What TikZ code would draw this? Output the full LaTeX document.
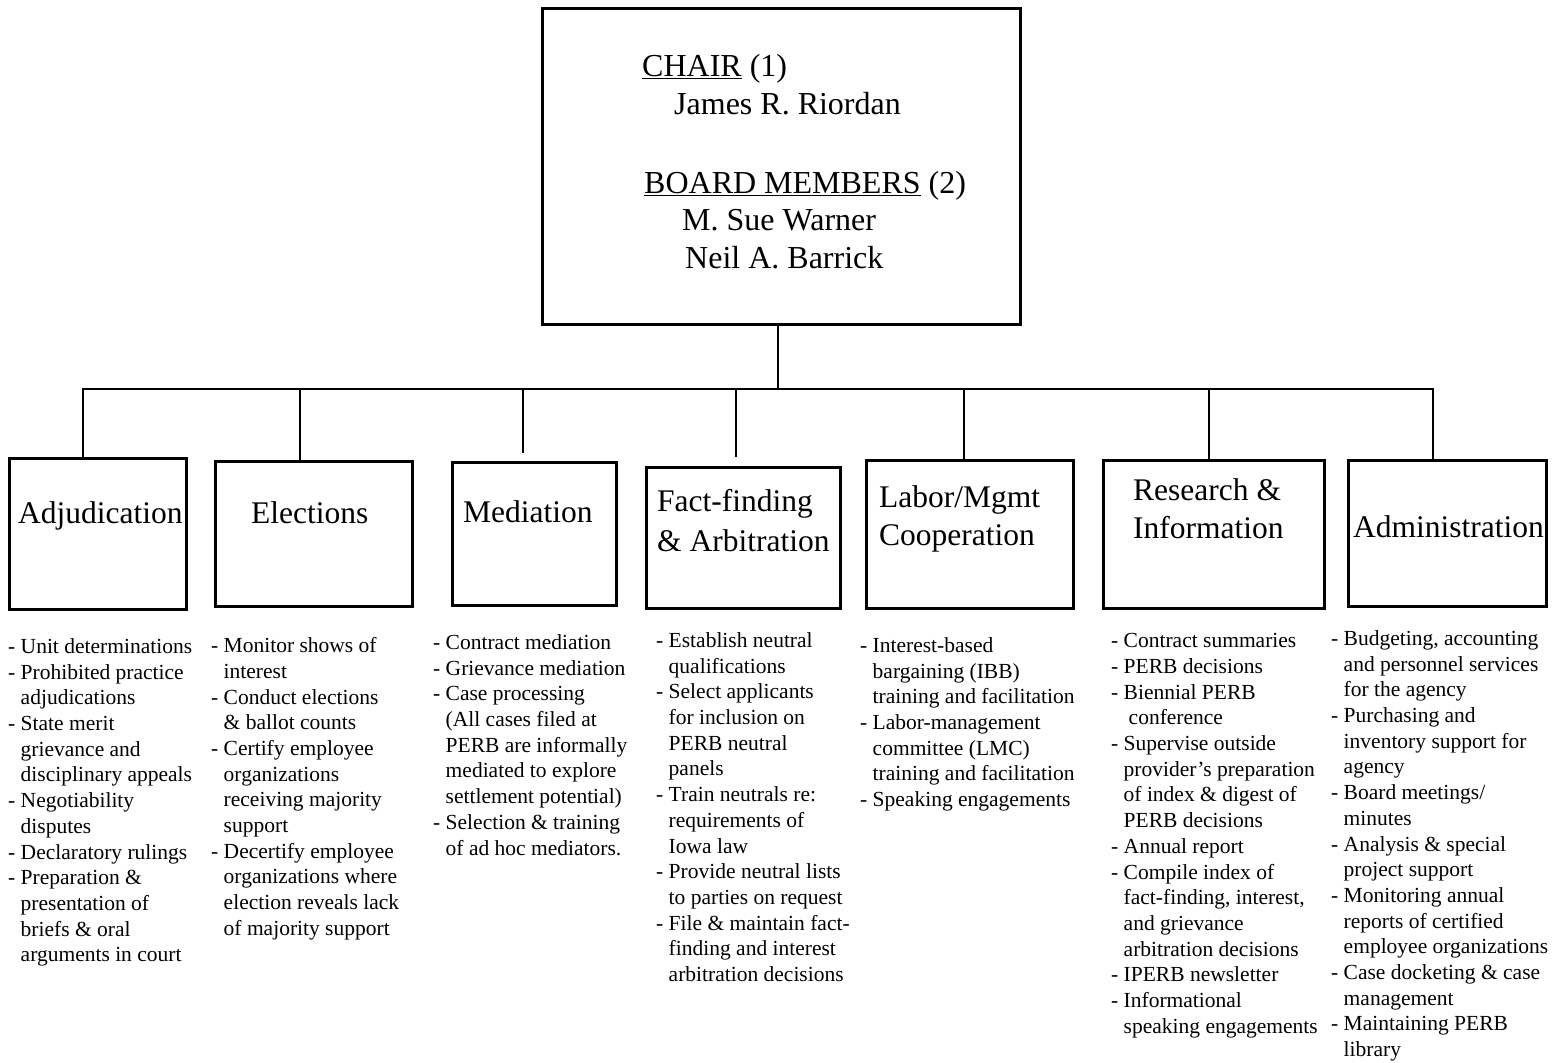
\documentclass[tikz,border=0pt]{standalone}
\usepackage{fontspec}
\setmainfont{Liberation Serif}
\newcommand\lind{\hphantom{- }}
\tikzset{
  box/.style={draw, line width=2.8pt, inner sep=0pt, anchor=north west},
  ttl/.style={inner sep=0pt, anchor=north west, align=left, font=\fontsize{31.5}{38.5}\selectfont},
  lst/.style={inner sep=0pt, anchor=north west, align=left, font=\fontsize{21.5}{25.7}\selectfont},
  conn/.style={line width=2.8pt},
}
\begin{document}
\begin{tikzpicture}[x=1pt,y=-1pt]
\useasboundingbox[fill=white] (0,0) rectangle (1559,1063);

% top box
\node[box, minimum width=478pt, minimum height=316pt] (chair) at (541,7) {};
\node[inner sep=0pt, anchor=north west, align=left, font=\fontsize{32}{37.8}\selectfont] (chairT) at (642,54)
 {\underline{CHAIR} (1)\\
  \hspace*{32pt}James R. Riordan\\[41pt]
  \hspace*{2pt}\underline{BOARD MEMBERS} (2)\\
  \hspace*{40pt}M. Sue Warner\\
  \hspace*{43pt}Neil A. Barrick};

% department boxes
\node[box, minimum width=177pt, minimum height=151pt] (adj) at (8,457) {};
\node[box, minimum width=197pt, minimum height=145pt] (ele) at (214,460) {};
\node[box, minimum width=164pt, minimum height=143pt] (med) at (451,461) {};
\node[box, minimum width=194pt, minimum height=141pt] (ff)  at (645,466) {};
\node[box, minimum width=207pt, minimum height=148pt] (lab) at (865,459) {};
\node[box, minimum width=221pt, minimum height=148pt] (res) at (1102,459) {};
\node[box, minimum width=198pt, minimum height=146pt] (adm) at (1347,459) {};

% titles
\node[ttl] (adjT) at (18,501.5) {Adjudication};
\node[ttl] (eleT) at (251,501.5) {Elections};
\node[ttl] (medT) at (463,500.5) {Mediation};
\node[ttl, font=\fontsize{31.5}{39.5}\selectfont] (ffT) at (657,489.5) {Fact-finding\\\& Arbitration};
\node[ttl, font=\fontsize{31.5}{38}\selectfont] (labT) at (879,485.5) {Labor/Mgmt\\Cooperation};
\node[ttl, font=\fontsize{31.5}{38}\selectfont] (resT) at (1133,478.5) {Research \&\\Information};
\node[ttl] (admT) at (1353,515.5) {Administration};

% connectors
\coordinate (jtop) at (778,389);
\coordinate (jadj) at (83,389);
\coordinate (jele) at (300,389);
\coordinate (jmed) at (523,389);
\coordinate (jff)  at (736,389);
\coordinate (jlab) at (964,389);
\coordinate (jres) at (1209,389);
\coordinate (jadm) at (1433,389);
\draw[conn] (chair.south -| jtop) -- (jtop);
\draw[conn] (jadj |- adj.north) -- (jadj) -- (jadm) -- (jadm |- adm.north);
\draw[conn] (jele) -- (jele |- ele.north);
\draw[conn, shorten >=8pt] (jmed) -- (jmed |- med.north);
\draw[conn, shorten >=9pt] (jff) -- (jff |- ff.north);
\draw[conn] (jlab) -- (jlab |- lab.north);
\draw[conn] (jres) -- (jres |- res.north);

% lists
\node[lst] (adjL) at (8,638.3) {- Unit determinations\\
- Prohibited practice\\
\lind adjudications\\
- State merit\\
\lind grievance and\\
\lind disciplinary appeals\\
- Negotiability\\
\lind disputes\\
- Declaratory rulings\\
- Preparation \&\\
\lind presentation of\\
\lind briefs \& oral\\
\lind arguments in court};

\node[lst] (eleL) at (211,637.3) {- Monitor shows of\\
\lind interest\\
- Conduct elections\\
\lind \& ballot counts\\
- Certify employee\\
\lind organizations\\
\lind receiving majority\\
\lind support\\
- Decertify employee\\
\lind organizations where\\
\lind election reveals lack\\
\lind of majority support};

\node[lst] (medL) at (433,634.3) {- Contract mediation\\
- Grievance mediation\\
- Case processing\\
\lind (All cases filed at\\
\lind PERB are informally\\
\lind mediated to explore\\
\lind settlement potential)\\
- Selection \& training\\
\lind of ad hoc mediators.};

\node[lst] (ffL) at (656,632.3) {- Establish neutral\\
\lind qualifications\\
- Select applicants\\
\lind for inclusion on\\
\lind PERB neutral\\
\lind panels\\
- Train neutrals re:\\
\lind requirements of\\
\lind Iowa law\\
- Provide neutral lists\\
\lind to parties on request\\
- File \& maintain fact-\\
\lind finding and interest\\
\lind arbitration decisions};

\node[lst] (labL) at (860,637.3) {- Interest-based\\
\lind bargaining (IBB)\\
\lind training and facilitation\\
- Labor-management\\
\lind committee (LMC)\\
\lind training and facilitation\\
- Speaking engagements};

\node[lst] (resL) at (1111,633.3) {- Contract summaries\\
- PERB decisions\\
- Biennial PERB\\
\lind\hspace*{5pt}conference\\
- Supervise outside\\
\lind provider's preparation\\
\lind of index \& digest of\\
\lind PERB decisions\\
- Annual report\\
- Compile index of\\
\lind fact-finding, interest,\\
\lind and grievance\\
\lind arbitration decisions\\
- IPERB newsletter\\
- Informational\\
\lind speaking engagements};

\node[lst] (admL) at (1331,630.3) {- Budgeting, accounting\\
\lind and personnel services\\
\lind for the agency\\
- Purchasing and\\
\lind inventory support for\\
\lind agency\\
- Board meetings/\\
\lind minutes\\
- Analysis \& special\\
\lind project support\\
- Monitoring annual\\
\lind reports of certified\\
\lind employee organizations\\
- Case docketing \& case\\
\lind management\\
- Maintaining PERB\\
\lind library};
\end{tikzpicture}
\end{document}
